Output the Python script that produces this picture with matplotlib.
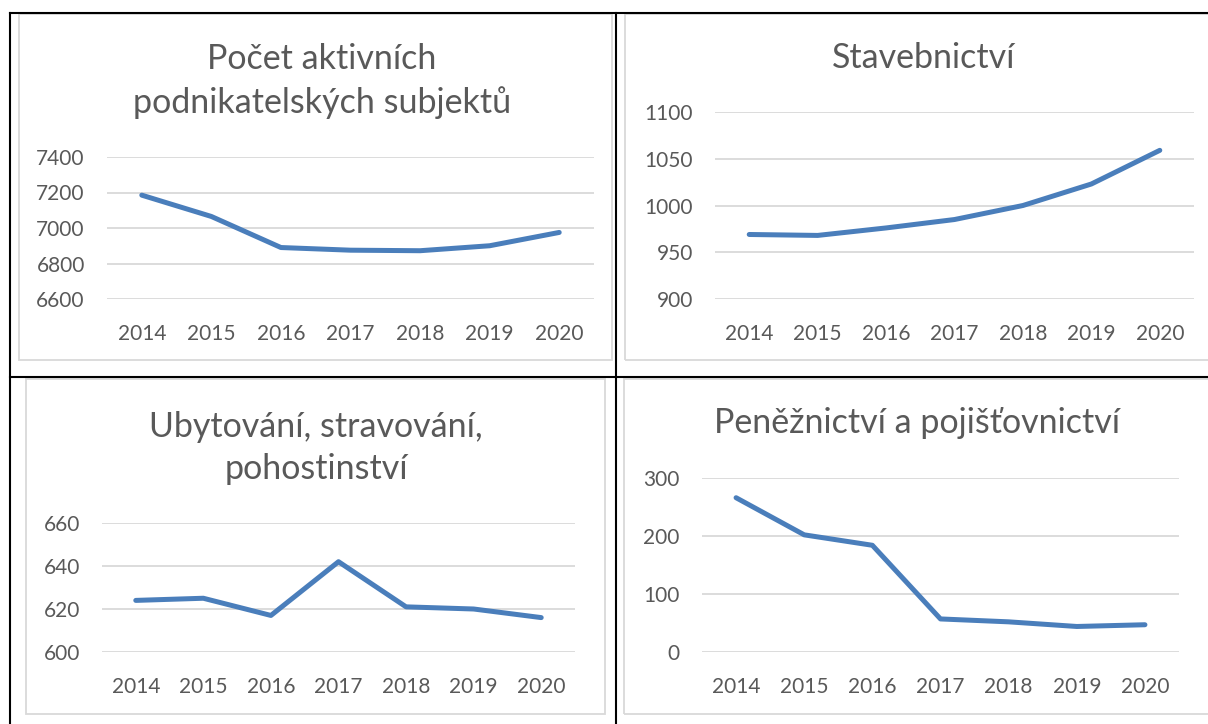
import matplotlib
matplotlib.use("Agg")
import matplotlib.pyplot as plt
from matplotlib.lines import Line2D
from matplotlib.patches import Rectangle

plt.rcParams['font.family'] = ['Lato', 'DejaVu Sans']

W, H = 1208, 724

years = ["2014", "2015", "2016", "2017", "2018", "2019", "2020"]

title_subjekty = "Počet aktivních\npodnikatelských subjektů"
subjekty = [7185, 7065, 6890, 6875, 6872, 6900, 6975]
ticks_subjekty = [6600, 6800, 7000, 7200, 7400]

title_stavebnictvi = "Stavebnictví"
stavebnictvi = [969, 968, 976, 985, 1000, 1023, 1059]
ticks_stavebnictvi = [900, 950, 1000, 1050, 1100]

title_ubytovani = "Ubytování, stravování,\npohostinství"
ubytovani = [624, 625, 617, 642, 621, 620, 616]
ticks_ubytovani = [600, 620, 640, 660]

title_penez = "Peněžnictví a pojišťovnictví"
penez = [266, 202, 184, 57, 52, 44, 47]
ticks_penez = [0, 100, 200, 300]

TEXT = "#595959"
GRID = "#d9d9d9"
LINE = "#4a7ebb"

fig = plt.figure(figsize=(W / 100, H / 100), dpi=100)
fig.patch.set_facecolor("white")


def fx(x):
    return x / W


def fy(y):
    return 1 - y / H


def frame(x0, y0, x1, y1):
    fig.add_artist(Rectangle((fx(x0), fy(y1)), fx(x1) - fx(x0), fy(y0) - fy(y1),
                             transform=fig.transFigure, facecolor="none",
                             edgecolor=GRID, lw=1.3, zorder=0))


def chart(box, values, ticks, title, title_xy, linespacing=1.42):
    x0, y0, x1, y1 = box
    ax = fig.add_axes([fx(x0), fy(y1), fx(x1) - fx(x0), fy(y0) - fy(y1)])
    xs = list(range(len(years)))
    ax.plot(xs, values, color=LINE, lw=3.6, solid_capstyle="round",
            solid_joinstyle="round", zorder=3)
    ax.set_xlim(-0.5, len(years) - 0.5)
    ax.set_ylim(ticks[0], ticks[-1])
    ax.set_yticks(ticks)
    ax.set_yticklabels([str(t) for t in ticks])
    ax.set_xticks(xs)
    ax.set_xticklabels(years)
    ax.grid(axis="y", color=GRID, lw=1.3)
    ax.set_axisbelow(True)
    for s in ax.spines.values():
        s.set_visible(False)
    ax.tick_params(axis="both", length=0, labelsize=15, labelcolor=TEXT)
    ax.tick_params(axis="y", pad=16)
    ax.tick_params(axis="x", pad=18)
    ax.set_facecolor("none")
    tx, ty = title_xy
    fig.text(fx(tx), fy(ty), title, ha="center", va="center", fontsize=24.5,
             color=TEXT, linespacing=linespacing)
    return ax


# chart frames
frame(19, 14, 612, 360)
frame(625, 14, 1215, 360)
frame(26, 379, 605, 714)
frame(624, 379, 1215, 714)

chart((107, 157, 594, 299), subjekty, ticks_subjekty, title_subjekty, (322, 81))
chart((715, 112, 1194, 299), stavebnictvi, ticks_stavebnictvi, title_stavebnictvi, (924, 58))
chart((102, 523, 575, 652), ubytovani, ticks_ubytovani, title_ubytovani, (316, 448))
chart((702, 478, 1179, 652), penez, ticks_penez, title_penez, (917, 423))

# table borders
lw = 1.5
for (xa, ya, xb, yb) in [(10, 13, W, 13), (10, 377, W, 377),
                         (10, 13, 10, H), (616, 13, 616, H)]:
    fig.add_artist(Line2D([fx(xa), fx(xb)], [fy(ya), fy(yb)],
                          transform=fig.transFigure, color="black", lw=lw, zorder=5))

fig.savefig("out.png", dpi=100, facecolor="white")
